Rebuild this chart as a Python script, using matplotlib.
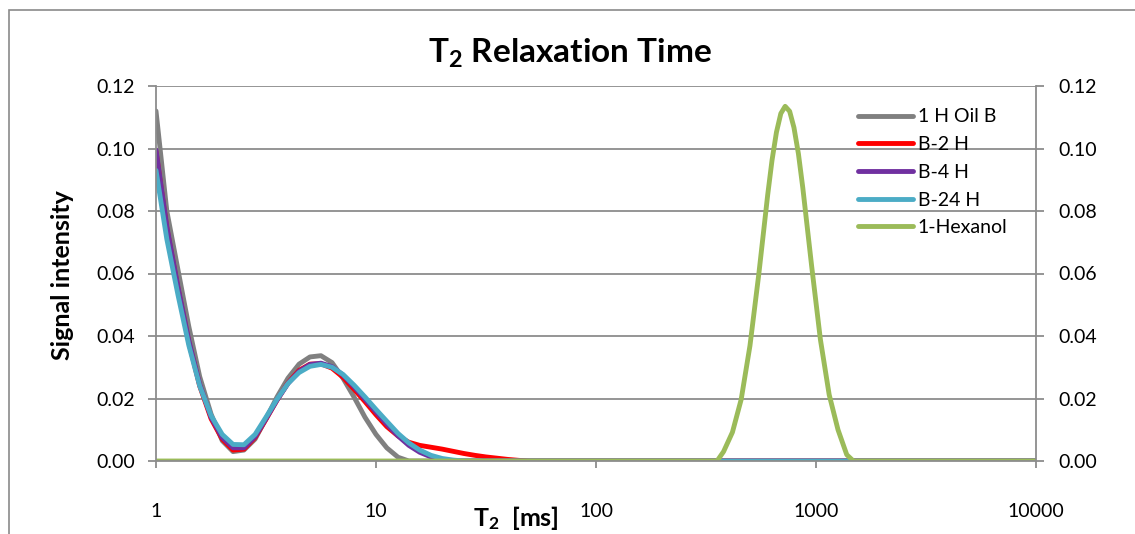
import matplotlib
matplotlib.use("Agg")
import matplotlib.pyplot as plt
from matplotlib.ticker import FixedLocator, FixedFormatter, NullLocator
from matplotlib.patches import Rectangle

plt.rcParams['font.family'] = ['Lato', 'DejaVu Sans']
plt.rcParams['mathtext.fontset'] = 'custom'
plt.rcParams['mathtext.rm'] = 'Lato'
plt.rcParams['mathtext.bf'] = 'Lato:bold'

# --- data ---
t2_oil = [1, 1.12, 1.26, 1.41, 1.58, 1.78, 2.0, 2.24, 2.51, 2.82,
          3.16, 3.55, 3.98, 4.47, 5.01, 5.62, 6.31, 7.08, 7.94, 8.91,
          10, 11.2, 12.6, 14.1, 15.8, 17.8, 20, 22.4, 25.1, 28.2,
          31.6, 35.5, 39.8, 44.7, 50.1, 10000]

oil_b = [0.112, 0.080, 0.061, 0.043, 0.027, 0.015, 0.0065, 0.0030, 0.0035, 0.0070,
         0.0135, 0.0205, 0.0265, 0.0310, 0.0333, 0.0337, 0.0315, 0.0265, 0.0205, 0.0140,
         0.0085, 0.0042, 0.0012, 0, 0, 0, 0, 0, 0, 0,
         0, 0, 0, 0, 0, 0]

b_2h = [0.099, 0.0745, 0.055, 0.038, 0.024, 0.0135, 0.0070, 0.0035, 0.0038, 0.0075,
        0.0133, 0.0195, 0.0250, 0.0290, 0.0310, 0.0311, 0.0297, 0.0268, 0.0230, 0.0190,
        0.0148, 0.0110, 0.0080, 0.0060, 0.0050, 0.0044, 0.0038, 0.0031, 0.0024, 0.0018,
        0.0013, 0.0009, 0.0005, 0.0002, 0, 0]

b_4h = [0.0995, 0.075, 0.0555, 0.0385, 0.0245, 0.014, 0.0075, 0.0042, 0.0042, 0.0078,
        0.0135, 0.0195, 0.0248, 0.0287, 0.0309, 0.0313, 0.0302, 0.0275, 0.0238, 0.0198,
        0.0157, 0.0118, 0.0080, 0.0050, 0.0028, 0.0013, 0.0005, 0, 0, 0,
        0, 0, 0, 0, 0, 0]

b_24h = [0.093, 0.071, 0.053, 0.037, 0.024, 0.0145, 0.0085, 0.0053, 0.0052, 0.0085,
         0.0140, 0.0198, 0.0248, 0.0283, 0.0303, 0.0309, 0.0300, 0.0277, 0.0243, 0.0205,
         0.0165, 0.0127, 0.0088, 0.0058, 0.0035, 0.0018, 0.0008, 0.0003, 0, 0,
         0, 0, 0, 0, 0, 0]

t2_hex = [1, 355, 380, 417, 457, 501, 550, 603, 631, 661, 692, 724, 759, 794, 832,
          871, 955, 1047, 1148, 1259, 1380, 1479, 10000]
hexanol = [0, 0, 0.003, 0.0092, 0.0197, 0.0369, 0.0600, 0.0851, 0.0962, 0.1052, 0.1112,
           0.1135, 0.1119, 0.1067, 0.0983, 0.0874, 0.0625, 0.0389, 0.0212, 0.0100, 0.002,
           0, 0]

labels = ["1 H Oil B", "B-2 H", "B-4 H", "B-24 H", "1-Hexanol"]
colors = ["#808080", "#FF0000", "#7030A0", "#4BACC6", "#9BBB59"]

x_ticks = [1, 10, 100, 1000, 10000]
x_ticklabels = ["1", "10", "100", "1000", "10000"]
y_ticks = [0.00, 0.02, 0.04, 0.06, 0.08, 0.10, 0.12]

# --- figure ---
W, H = 1135, 534
fig = plt.figure(figsize=(W / 100, H / 100), dpi=100)
fig.patches.append(Rectangle((9 / W, -0.1), 1.2, 1 - 10 / H + 0.1, transform=fig.transFigure,
                             fill=False, edgecolor="#8a8a8a", lw=1.2))

ax = fig.add_axes([156 / W, 1 - 461 / H, 880 / W, 375 / H])
series = [(t2_oil, oil_b), (t2_oil, b_2h), (t2_oil, b_4h), (t2_oil, b_24h), (t2_hex, hexanol)]
for (xs, ys), lab, c in zip(series, labels, colors):
    ax.plot(xs, ys, color=c, lw=3.5, label=lab, solid_capstyle='round', solid_joinstyle='round')

ax.set_xscale('log')
ax.set_xlim(1, 10000)
ax.set_ylim(0, 0.12)
ax.xaxis.set_major_locator(FixedLocator(x_ticks))
ax.xaxis.set_major_formatter(FixedFormatter(x_ticklabels))
ax.xaxis.set_minor_locator(NullLocator())
ax.set_yticks(y_ticks)
ax.set_yticklabels([f"{v:.2f}" for v in y_ticks])
ax.grid(axis='y', color="#8c8c8c", lw=1.3)
ax.set_axisbelow(True)

for s in ['left', 'right', 'bottom']:
    ax.spines[s].set_color("#8c8c8c")
    ax.spines[s].set_linewidth(1.3)
ax.spines['top'].set_visible(False)
ax.tick_params(axis='x', length=5, color="#8c8c8c", width=1.3, pad=25, labelsize=14)
ax.tick_params(axis='y', length=6, color="#8c8c8c", width=1.3, pad=9, labelsize=14)

ax2 = ax.twinx()
ax2.set_ylim(0, 0.12)
ax2.set_yticks(y_ticks)
ax2.set_yticklabels([f"{v:.2f}" for v in y_ticks])
ax2.tick_params(axis='y', length=6, color="#8c8c8c", width=1.3, pad=10, labelsize=14)
for s in ['left', 'right', 'bottom', 'top']:
    ax2.spines[s].set_visible(False)

leg = ax.legend(loc='upper left', bbox_to_anchor=(0.798, 0.94), frameon=False,
                borderpad=0, borderaxespad=0, handlelength=2.8, handletextpad=0.25,
                labelspacing=0.55, fontsize=14)

fig.text(570 / W, 1 - 53 / H, r"$\mathbf{T_2}$ Relaxation Time", ha='center', va='center',
         fontsize=24, fontweight='bold')
fig.text(62 / W, 1 - 275 / H, "Signal intensity", ha='center', va='center', rotation=90,
         fontsize=18, fontweight='bold')
fig.text(516 / W, 1 - 518 / H, r"$\mathbf{T_2}$  [ms]", ha='center', va='center',
         fontsize=18, fontweight='bold')

fig.savefig("out.png", dpi=100)
